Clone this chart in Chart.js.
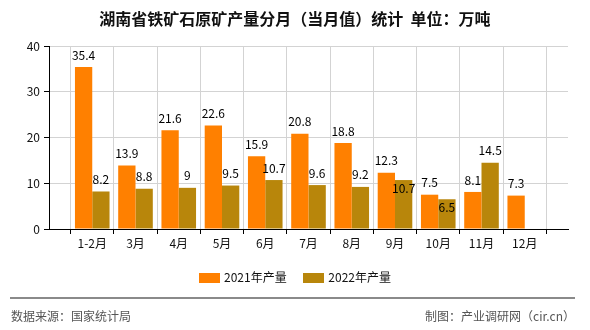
<!DOCTYPE html>
<html>
<head>
<meta charset="utf-8">
<script src="https://cdn.jsdelivr.net/npm/chart.js@4/dist/chart.umd.min.js"></script>
<style>
  body { margin: 0; background: #fff; font-family: "Noto Sans CJK SC", sans-serif; }
  #wrap { position: relative; width: 590px; height: 330px; overflow: hidden; }
  #myChart { position: absolute; left: 0; top: 0; }
  .title { position: absolute; left: 0; top: 6px; width: 590px; text-align: center; font-size: 16px; font-weight: bold; color: #111; }
  .legend { position: absolute; left: 0; top: 268px; width: 590px; text-align: center; font-size: 12px; color: #111; }
  .legend span.item { display: inline-block; margin: 0 7px; }
  .legend i { display: inline-block; width: 21px; height: 10px; vertical-align: -1px; margin-right: 4px; }
  .rule { position: absolute; left: 10px; top: 297px; width: 565px; height: 2px; background: #8a8a8a; }
  .foot { position: absolute; top: 307px; font-size: 12px; color: #555; }
</style>
</head>
<body>
<div id="wrap">
  <canvas id="myChart" width="590" height="330"></canvas>
  <div class="title">湖南省铁矿石原矿产量分月（当月值）统计&nbsp;&nbsp;单位：万吨</div>
  <div class="legend">
    <span class="item"><i style="background:#ff8000"></i>2021年产量</span>
    <span class="item"><i style="background:#b8860b"></i>2022年产量</span>
  </div>
  <div class="rule"></div>
  <div class="foot" style="left:11px">数据来源：国家统计局</div>
  <div class="foot" style="right:15px">制图：产业调研网（cir.cn）</div>
</div>
<script>
// categories and values
const months = ['1-2月', '3月', '4月', '5月', '6月', '7月', '8月', '9月', '10月', '11月', '12月'];
const output2021 = [35.4, 13.9, 21.6, 22.6, 15.9, 20.8, 18.8, 12.3, 7.5, 8.1, 7.3];
const output2022 = [8.2, 8.8, 9, 9.5, 10.7, 9.6, 9.2, 10.7, 6.5, 14.5, null];
const yTicks = [0, 10, 20, 30, 40];

// empty slot on each side, like the original axis
const labels = [''].concat(months, ['']);
const pad = arr => [null].concat(arr, [null]);

// value labels drawn above each bar
const valueLabels = {
  id: 'valueLabels',
  afterDatasetsDraw(chart, args, opts) {
    const ctx = chart.ctx;
    ctx.save();
    ctx.font = '12px "Noto Sans CJK SC", sans-serif';
    ctx.fillStyle = '#000';
    ctx.textAlign = 'center';
    ctx.textBaseline = 'middle';
    chart.data.datasets.forEach((ds, di) => {
      chart.getDatasetMeta(di).data.forEach((bar, i) => {
        const v = ds.data[i];
        if (v === null || v === undefined) return;
        const key = di + '-' + i;
        const dy = (opts.shift && opts.shift[key]) || 0;
        ctx.fillText(String(v), bar.x, bar.y - 12 + dy);
      });
    });
    ctx.restore();
  }
};

const config = {
  type: 'bar',
  data: {
    labels: labels,
    datasets: [
      { label: '2021年产量', data: pad(output2021), backgroundColor: '#ff8000',
        categoryPercentage: 0.8, barPercentage: 1 },
      { label: '2022年产量', data: pad(output2022), backgroundColor: '#b8860b',
        categoryPercentage: 0.8, barPercentage: 1 }
    ]
  },
  options: {
    responsive: false,
    animation: false,
    layout: { padding: { left: 0, top: 46, right: 22, bottom: 0 } },
    scales: {
      x: {
        offset: false,
        afterFit: s => { s.height = 101; },
        grid: { color: '#d3d3d3', tickColor: '#000', tickLength: 5 },
        border: { color: '#000', width: 1 },
        ticks: { autoSkip: false, maxRotation: 0, color: '#111', padding: 2,
                 font: { size: 12, family: '"Noto Sans CJK SC", sans-serif' } }
      },
      y: {
        min: 0, max: 40,
        afterFit: s => { s.width = 49; },
        afterBuildTicks: s => { s.ticks = yTicks.map(v => ({ value: v })); },
        grid: { color: '#d3d3d3', tickColor: '#000', tickLength: 5 },
        border: { color: '#000', width: 1 },
        ticks: { color: '#111', padding: 4,
                 font: { size: 12, family: '"Noto Sans CJK SC", sans-serif' } }
      }
    },
    plugins: {
      legend: { display: false },
      tooltip: { enabled: false },
      valueLabels: { shift: { '1-8': 20, '1-9': 20 } }
    }
  },
  plugins: [valueLabels]
};

new Chart(document.getElementById('myChart'), config);
</script>
</body>
</html>
